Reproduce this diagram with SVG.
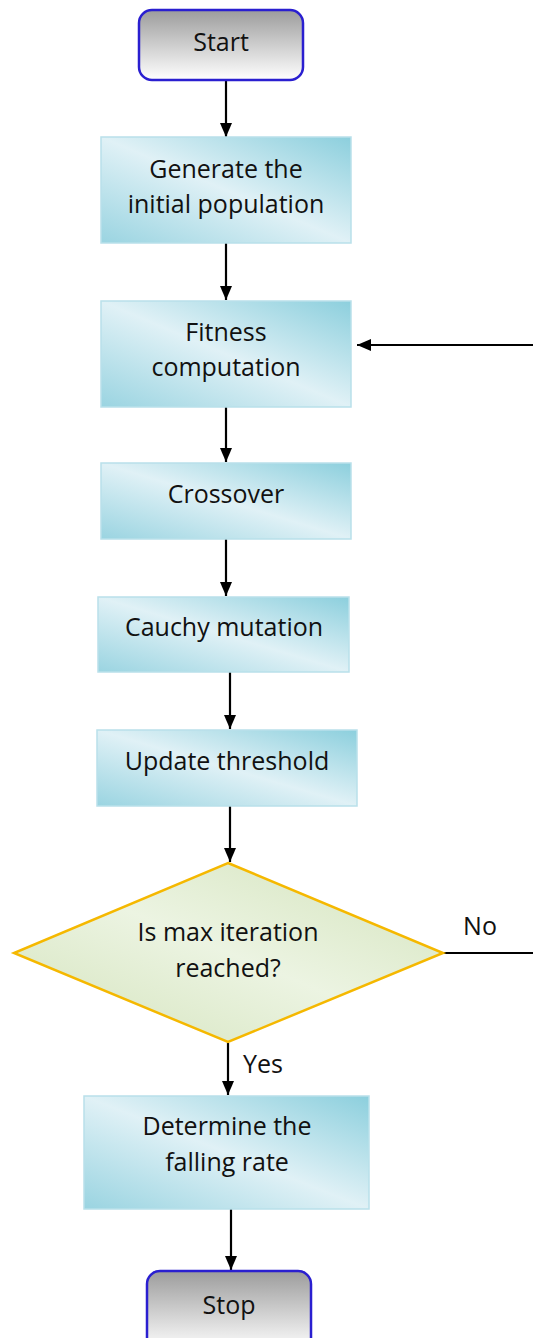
<svg xmlns="http://www.w3.org/2000/svg" width="533" height="1338" viewBox="0 0 533 1338">
  <style>
    .term { stroke: #2a1fd0; stroke-width: 2.5; fill: url(#gTerm); }
    .proc { stroke: #b9e0ea; stroke-width: 1.5; fill: url(#gProc); }
    .dec { stroke: #f5b800; stroke-width: 2.5; fill: url(#gDec); }
    .lbl { font-family: "Open Sans", "Noto Sans", sans-serif; font-size: 25px; fill: #111; text-anchor: middle; }
    .edge { stroke: #000; stroke-width: 2.2; fill: none; }
  </style>
  <defs>
    <linearGradient id="gTerm" x1="0" y1="0" x2="0" y2="1">
      <stop offset="0" stop-color="#9c9c9c"/>
      <stop offset="1" stop-color="#ffffff"/>
    </linearGradient>
    <linearGradient id="gProc" x1="1" y1="0" x2="0" y2="1">
      <stop offset="0" stop-color="#8ccfdd"/>
      <stop offset="0.5" stop-color="#e0f1f6"/>
      <stop offset="1" stop-color="#9ad4e1"/>
    </linearGradient>
    <linearGradient id="gDec" x1="1" y1="0" x2="0" y2="1">
      <stop offset="0" stop-color="#d3e3bb"/>
      <stop offset="0.5" stop-color="#ecf4e2"/>
      <stop offset="1" stop-color="#d3e3bb"/>
    </linearGradient>
    <marker id="ah" viewBox="0 0 14 12" refX="14" refY="6" markerWidth="14" markerHeight="12" markerUnits="userSpaceOnUse" orient="auto">
      <path d="M0,0 L14,6 L0,12 z" fill="#000"/>
    </marker>
  </defs>

  <g id="connectors">
    <line class="edge" x1="226" y1="81" x2="226" y2="137" marker-end="url(#ah)"/>
    <line class="edge" x1="226" y1="243" x2="226" y2="300" marker-end="url(#ah)"/>
    <line class="edge" x1="533" y1="345" x2="357" y2="345" marker-end="url(#ah)"/>
    <line class="edge" x1="226" y1="407" x2="226" y2="462" marker-end="url(#ah)"/>
    <line class="edge" x1="226" y1="539" x2="226" y2="596" marker-end="url(#ah)"/>
    <line class="edge" x1="230" y1="672" x2="230" y2="729" marker-end="url(#ah)"/>
    <line class="edge" x1="230" y1="806" x2="230" y2="862" marker-end="url(#ah)"/>
    <line class="edge" x1="443" y1="953" x2="533" y2="953"/>
    <line class="edge" x1="228" y1="1043" x2="228" y2="1095" marker-end="url(#ah)"/>
    <line class="edge" x1="231" y1="1209" x2="231" y2="1270" marker-end="url(#ah)"/>
    <text class="lbl" x="480" y="935">No</text>
    <text class="lbl" x="263" y="1073">Yes</text>
  </g>

  <g id="start">
    <rect class="term" x="139" y="10" width="164" height="70" rx="13"/>
    <text class="lbl" x="221" y="51">Start</text>
  </g>

  <g id="init">
    <rect class="proc" x="101" y="137" width="250" height="106"/>
    <text class="lbl" x="226" y="178">Generate the</text>
    <text class="lbl" x="226" y="213">initial population</text>
  </g>

  <g id="fitness">
    <rect class="proc" x="101" y="301" width="250" height="106"/>
    <text class="lbl" x="226" y="341">Fitness</text>
    <text class="lbl" x="226" y="376">computation</text>
  </g>

  <g id="crossover">
    <rect class="proc" x="101" y="463" width="250" height="76"/>
    <text class="lbl" x="226" y="503">Crossover</text>
  </g>

  <g id="mutation">
    <rect class="proc" x="98" y="597" width="251" height="75"/>
    <text class="lbl" x="224" y="636">Cauchy mutation</text>
  </g>

  <g id="threshold">
    <rect class="proc" x="97" y="730" width="260" height="76"/>
    <text class="lbl" x="227" y="770">Update threshold</text>
  </g>

  <g id="check">
    <polygon class="dec" points="228,863 443,953 228,1042 14,953"/>
    <text class="lbl" x="228" y="941">Is max iteration</text>
    <text class="lbl" x="228" y="977">reached?</text>
  </g>

  <g id="rate">
    <rect class="proc" x="84" y="1096" width="285" height="113"/>
    <text class="lbl" x="227" y="1135">Determine the</text>
    <text class="lbl" x="227" y="1171">falling rate</text>
  </g>

  <g id="stop">
    <rect class="term" x="147" y="1271" width="164" height="80" rx="13"/>
    <text class="lbl" x="229" y="1314">Stop</text>
  </g>
</svg>
